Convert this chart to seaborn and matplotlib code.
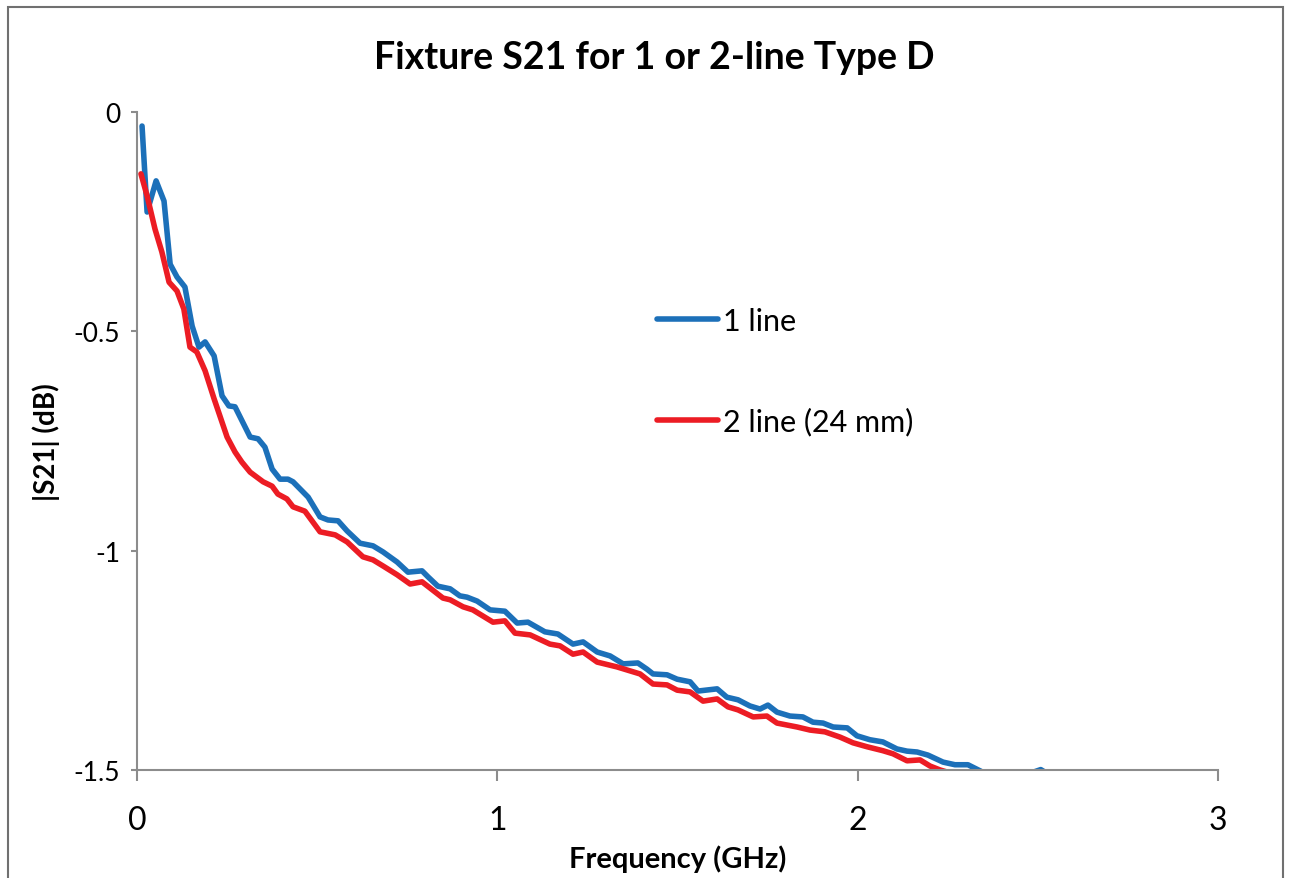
import pandas as pd
import matplotlib
matplotlib.use('Agg')
import matplotlib.pyplot as plt
import seaborn as sns
from matplotlib.patches import Rectangle

# Values (frequency in GHz, |S21| in dB)
freq_1line = [0.014, 0.028, 0.053, 0.075, 0.092, 0.111, 0.133, 0.153, 0.172, 0.189,
              0.214, 0.236, 0.255, 0.272, 0.314, 0.336, 0.355, 0.375, 0.397, 0.419,
              0.433, 0.475, 0.508, 0.530, 0.558, 0.583, 0.619, 0.655, 0.683, 0.722,
              0.752, 0.791, 0.808, 0.835, 0.869, 0.896, 0.916, 0.944, 0.980, 1.021,
              1.055, 1.085, 1.132, 1.168, 1.210, 1.238, 1.277, 1.313, 1.349, 1.390,
              1.415, 1.432, 1.471, 1.499, 1.535, 1.557, 1.610, 1.637, 1.668, 1.701,
              1.729, 1.751, 1.776, 1.812, 1.848, 1.876, 1.904, 1.932, 1.971, 1.998,
              2.034, 2.070, 2.109, 2.137, 2.165, 2.195, 2.237, 2.270, 2.306, 2.340,
              2.380, 2.430, 2.470, 2.508, 2.550, 2.600, 2.650, 2.700]
s21_1line = [-0.032, -0.228, -0.157, -0.203, -0.347, -0.376, -0.399, -0.488, -0.536, -0.524,
             -0.556, -0.647, -0.670, -0.672, -0.741, -0.745, -0.764, -0.814, -0.837, -0.837,
             -0.843, -0.878, -0.923, -0.930, -0.932, -0.955, -0.983, -0.989, -1.003, -1.026,
             -1.049, -1.046, -1.060, -1.081, -1.087, -1.103, -1.106, -1.115, -1.135, -1.138,
             -1.165, -1.163, -1.185, -1.190, -1.213, -1.208, -1.231, -1.240, -1.258, -1.256,
             -1.270, -1.281, -1.283, -1.293, -1.299, -1.320, -1.315, -1.334, -1.340, -1.354,
             -1.361, -1.352, -1.368, -1.377, -1.379, -1.391, -1.393, -1.402, -1.404, -1.422,
             -1.431, -1.436, -1.452, -1.457, -1.459, -1.466, -1.482, -1.488, -1.488, -1.502,
             -1.520, -1.515, -1.510, -1.499, -1.520, -1.530, -1.535, -1.540]

freq_2line = [0.011, 0.028, 0.050, 0.069, 0.089, 0.111, 0.130, 0.147, 0.166, 0.189,
              0.214, 0.250, 0.272, 0.291, 0.314, 0.350, 0.375, 0.391, 0.416, 0.433,
              0.466, 0.508, 0.550, 0.583, 0.627, 0.655, 0.683, 0.722, 0.758, 0.791,
              0.813, 0.849, 0.869, 0.905, 0.932, 0.988, 1.021, 1.049, 1.091, 1.146,
              1.174, 1.210, 1.238, 1.277, 1.332, 1.396, 1.432, 1.471, 1.499, 1.535,
              1.571, 1.610, 1.640, 1.668, 1.710, 1.748, 1.776, 1.832, 1.868, 1.909,
              1.951, 1.987, 2.026, 2.070, 2.098, 2.137, 2.173, 2.201, 2.229, 2.270,
              2.320, 2.360, 2.420, 2.500, 2.600, 2.700]
s21_2line = [-0.141, -0.191, -0.267, -0.319, -0.388, -0.408, -0.449, -0.536, -0.547, -0.590,
             -0.654, -0.741, -0.775, -0.798, -0.821, -0.843, -0.853, -0.871, -0.882, -0.900,
             -0.910, -0.957, -0.964, -0.980, -1.014, -1.021, -1.035, -1.055, -1.076, -1.071,
             -1.085, -1.108, -1.112, -1.128, -1.135, -1.163, -1.160, -1.188, -1.192, -1.213,
             -1.217, -1.236, -1.231, -1.254, -1.265, -1.281, -1.304, -1.306, -1.318, -1.322,
             -1.343, -1.338, -1.356, -1.363, -1.379, -1.377, -1.393, -1.402, -1.409, -1.413,
             -1.425, -1.438, -1.447, -1.456, -1.463, -1.479, -1.477, -1.491, -1.500, -1.510,
             -1.515, -1.530, -1.540, -1.550, -1.560, -1.570]

series_labels = ['1 line', '2 line (24 mm)']
series_colors = ['#1c70b9', '#ec1c24']
x_ticks = [0, 1, 2, 3]
y_ticks = [0, -0.5, -1, -1.5]

df = pd.concat([
    pd.DataFrame({'freq': freq_1line, 's21': s21_1line, 'series': series_labels[0]}),
    pd.DataFrame({'freq': freq_2line, 's21': s21_2line, 'series': series_labels[1]}),
])

sns.set_style('white')
plt.rcParams['font.family'] = ['Lato', 'DejaVu Sans']
plt.rcParams['text.color'] = 'black'
plt.rcParams['xtick.color'] = 'black'
plt.rcParams['ytick.color'] = 'black'
plt.rcParams['axes.labelcolor'] = 'black'

fig = plt.figure(figsize=(12.9, 8.79), dpi=100)
ax = fig.add_axes([137 / 1290, 1 - 771 / 879, (1218 - 137) / 1290, (771 - 113) / 879])

sns.lineplot(data=df, x='freq', y='s21', hue='series', palette=series_colors,
             hue_order=series_labels, linewidth=4.0, sort=False, estimator=None, ax=ax)

ax.set_xlim(0, 3)
ax.set_ylim(-1.5, 0)
ax.set_xticks(x_ticks)
ax.set_xticklabels([str(t) for t in x_ticks])
ax.set_yticks(y_ticks)
ax.set_yticklabels(['0', '-0.5', '-1', '-1.5'])

for side in ['top', 'right']:
    ax.spines[side].set_visible(False)
for side in ['left', 'bottom']:
    ax.spines[side].set_color('#8c8c8c')
    ax.spines[side].set_linewidth(1.5)

ax.tick_params(axis='x', direction='out', length=8, width=1.5, color='#8c8c8c',
               labelsize=23, pad=17, bottom=True)
ax.tick_params(axis='y', direction='out', length=4, width=1.5, color='#8c8c8c',
               labelsize=19, pad=8, left=True)

fig.text(654 / 1290, 1 - 58 / 879, 'Fixture S21 for 1 or 2-line Type D',
         fontsize=27, fontweight='bold', ha='center', va='center')
ax.set_xlabel('Frequency (GHz)', fontsize=21, fontweight='bold', labelpad=7)
ax.set_ylabel('|S21| (dB)', fontsize=20, fontweight='bold', labelpad=10)

ax.legend(frameon=False, loc='upper left', bbox_to_anchor=(0.467, 0.727),
          fontsize=22, handlelength=2.0, handletextpad=0.15, labelspacing=2.35,
          borderpad=0, title=None)

# outer chart border
fig.patches.append(Rectangle((8 / 1290, -0.05), (1283 - 8) / 1290, 1.05 - 8 / 879,
                             transform=fig.transFigure, fill=False,
                             edgecolor='#707070', linewidth=1.5))

fig.savefig('out.png', dpi=100)
